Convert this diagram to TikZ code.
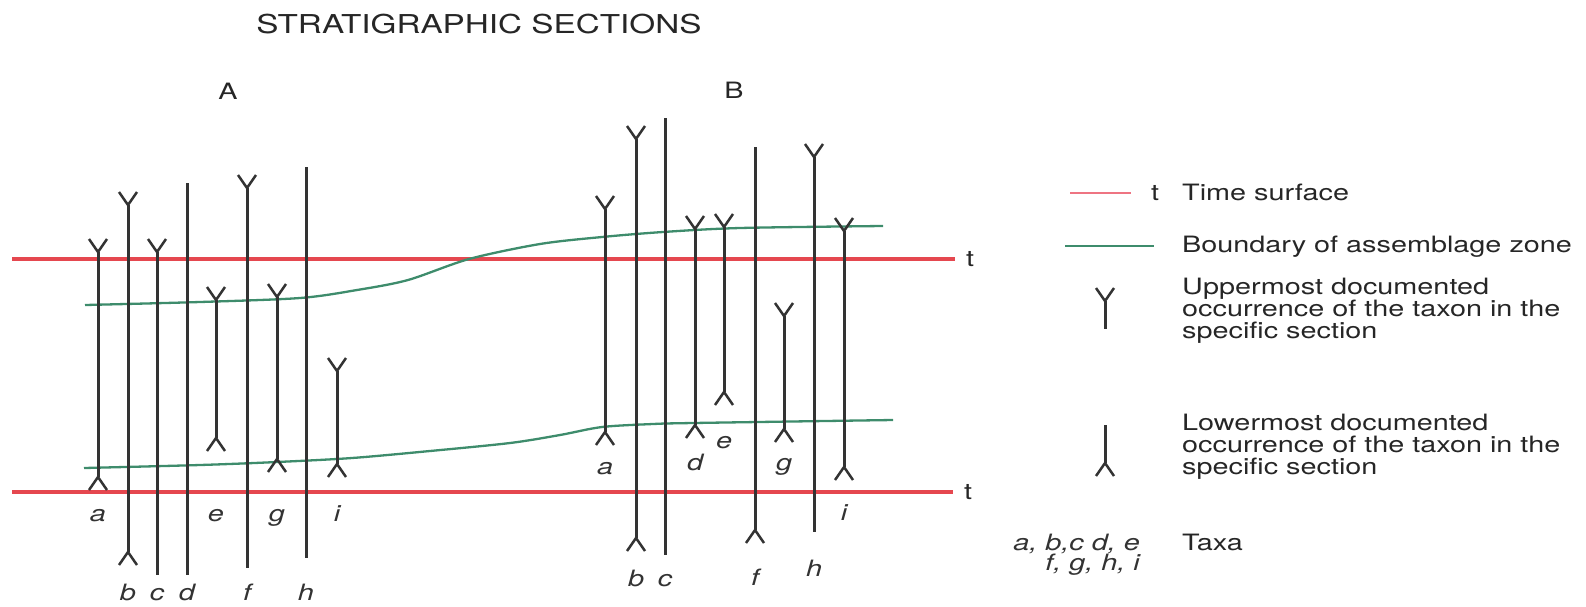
\documentclass[tikz,border=0pt]{standalone}
\usepackage{fontspec}
\setmainfont{TeX Gyre Heros}[FakeStretch=1.28]
\definecolor{tred}{HTML}{E5474F}
\definecolor{tredl}{HTML}{EE7482}
\definecolor{bgreen}{HTML}{3E8C6C}
\definecolor{lgray}{HTML}{333333}
\begin{document}
\begin{tikzpicture}[x=1pt,y=-1pt,
  taxon/.style={draw=lgray, line width=3pt},
  tick/.style={draw=lgray, line width=2.5pt, line join=round},
  timeline/.style={draw=tred, line width=3.5pt},
  zoneline/.style={draw=bgreen, line width=2.3pt},
  lbl/.style={font=\fontsize{22.5}{23}\selectfont\itshape, inner sep=0pt, anchor=base, text=lgray},
  legtext/.style={font=\fontsize{22.5}{23}\selectfont, inner sep=0pt, anchor=base west, text=black!85},
  uptick/.pic={\draw[tick] (-9,-13) -- (0,0) -- (9,-13);},
  lowtick/.pic={\draw[tick] (-9,13) -- (0,0) -- (9,13);}
]
\useasboundingbox (0,0) rectangle (1586,606);

% title and section names
\node[font=\fontsize{26}{30}\selectfont, inner sep=0pt, anchor=base, text=black!85] (title) at (479,33) {STRATIGRAPHIC SECTIONS};
\node[legtext, anchor=base] (secA) at (228,99) {A};
\node[legtext, anchor=base] (secB) at (734,98) {B};

% time surfaces
\coordinate (t1w) at (12,259); \coordinate (t1e) at (955,259);
\coordinate (t2w) at (12,492); \coordinate (t2e) at (953,492);
\draw[timeline] (t1w) -- (t1e);
\draw[timeline] (t2w) -- (t2e);
\node[legtext, anchor=base] (t1lab) at (970,266) {t};
\node[legtext, anchor=base] (t2lab) at (968,499) {t};

% assemblage zone boundaries
\draw[zoneline] plot[smooth, tension=0.5] coordinates {(85,305) (200,302) (300,298) (357,290) (408,280) (469,259) (540,244) (602,237) (663,232) (740,228) (883,226)};
\draw[zoneline] plot[smooth, tension=0.5] coordinates {(84,468) (200,465) (277,462) (352,458) (430,451) (510,443) (560,435) (602,427) (653,424) (693,423) (893,420)};

% taxa: name/x/top/bottom/Y-top?/Lambda-bottom?/label/label baseline
\foreach \n/\x/\t/\b/\tt/\bt/\l/\ly in {
  Aa/98/252/477/1/1/a/521, Ab/128/205/552/1/1/b/600, Ac/157/252/575/1/0/c/600,
  Ad/187/183/575/0/0/d/600, Ae/216/300/438/1/1/e/521, Af/247/188/568/1/0/f/600,
  Ag/277/297/459/1/1/g/521, Ah/306/167/558/0/0/h/600, Ai/337/371/464/1/1/i/521,
  Ba/605/209/432/1/1/a/474, Bb/636/139/538/1/1/b/586, Bc/665/118/555/0/0/c/586,
  Bd/695/229/425/1/1/d/470, Be/724/227/392/1/1/e/448, Bf/755/147/530/0/1/f/585,
  Bg/784/316/429/1/1/g/470, Bh/814/157/532/1/0/h/576, Bi/844/231/467/1/1/i/520} {
  \coordinate (\n-t) at (\x,\t);
  \coordinate (\n-b) at (\x,\b);
  \draw[taxon] (\n-t) -- (\n-b);
  \ifnum\tt=1 \pic at (\n-t) {uptick}; \fi
  \ifnum\bt=1 \pic at (\n-b) {lowtick}; \fi
  \node[lbl] (\n-l) at (\x,\ly) {\l};
}

% legend
\coordinate (lr1) at (1070,193); \coordinate (lr2) at (1131,193);
\draw[draw=tredl, line width=2.8pt] (lr1) -- (lr2);
\node[legtext] (lt) at (1151,200) {t};
\node[legtext] (ltime) at (1182,200) {Time surface};

\coordinate (lg1) at (1065,246); \coordinate (lg2) at (1154,246);
\draw[zoneline] (lg1) -- (lg2);
\node[legtext] (lbound) at (1182,252) {Boundary of assemblage zone};

\coordinate (ly1) at (1105,301); \coordinate (ly2) at (1105,329);
\draw[taxon] (ly1) -- (ly2);
\pic at (ly1) {uptick};
\node[legtext] (lu1) at (1182,294) {Uppermost documented};
\node[legtext] (lu2) at (1182,316) {occurrence of the taxon in the};
\node[legtext] (lu3) at (1182,338) {specific section};

\coordinate (ll1) at (1105,425); \coordinate (ll2) at (1105,463);
\draw[taxon] (ll1) -- (ll2);
\pic at (ll2) {lowtick};
\node[legtext] (lw1) at (1182,430) {Lowermost documented};
\node[legtext] (lw2) at (1182,452) {occurrence of the taxon in the};
\node[legtext] (lw3) at (1182,474) {specific section};

\node[lbl, anchor=base east] (lx1) at (1140,550) {a, b,c d, e};
\node[lbl, anchor=base east] (lx2) at (1140,570) {f, g, h, i};
\node[legtext] (ltaxa) at (1182,550) {Taxa};
\end{tikzpicture}
\end{document}
